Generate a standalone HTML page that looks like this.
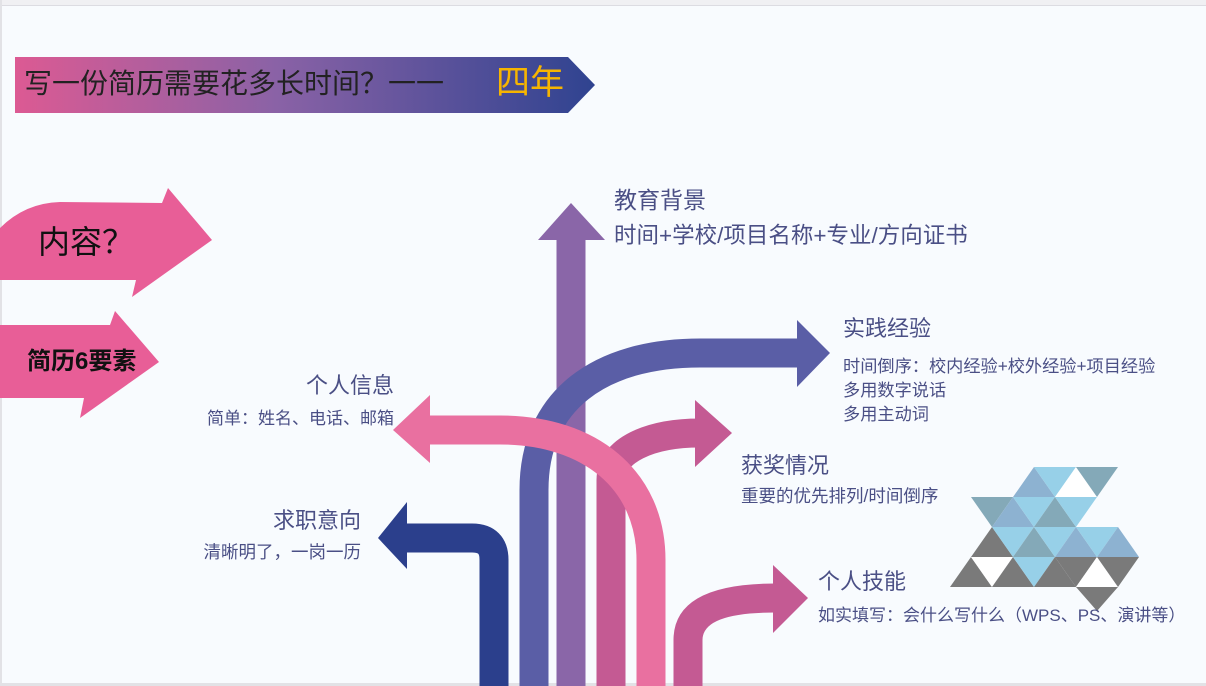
<!DOCTYPE html>
<html><head><meta charset="utf-8"><style>
html,body{margin:0;padding:0;}
body{width:1206px;height:686px;position:relative;overflow:hidden;background:#f8fbfe;font-family:"Liberation Sans","Noto Sans CJK SC",sans-serif;}
.t{position:absolute;color:#4a4f85;white-space:nowrap;line-height:1;}
.r{text-align:right;}
</style></head><body>
<div style="position:absolute;left:0;top:0;width:1206px;height:5px;background:#f0f0f3"></div>
<div style="position:absolute;left:0;top:5px;width:1206px;height:1px;background:#dcdce2"></div>
<div style="position:absolute;left:0;top:0;width:2px;height:686px;background:#e2e2e6"></div>
<div style="position:absolute;left:0;top:683px;width:1206px;height:3px;background:#e2e2e6"></div>
<svg width="1206" height="686" style="position:absolute;left:0;top:0">
<defs><linearGradient id="g" x1="0" x2="1"><stop offset="0" stop-color="#dc5a93"/><stop offset="0.45" stop-color="#8a62a6"/><stop offset="1" stop-color="#2f4390"/></linearGradient></defs>
<polygon points="15,57 568,57 595,85 568,113 15,113" fill="url(#g)"/>
<path d="M0,228 Q25,203 60,202 L162,203 L168,188 L212,240 L132,297 L136,280 L0,280 Z" fill="#e85e97"/>
<path d="M0,325 L110,325 L115,311 L159,362 L80,418 L84,398 L0,398 Z" fill="#e85e97"/>
<g fill="none" stroke-width="29">
<path d="M494,686 V560 Q494,538 472,538 H405" stroke="#2b3f8c"/>
<path d="M571,686 V238" stroke="#8a66a8"/>
<path d="M534,686 V490 C534,400 600,353 700,353 H800" stroke="#5a5ea6"/>
<path d="M611,686 V480 C611,450 650,433 700,433 H698" stroke="#c45a93"/>
<path d="M651,686 V560 C651,480 590,430 500,430 H428" stroke="#e970a0"/>
<path d="M688,686 V640 C688,610 720,598 775,598" stroke="#c45a93"/>
</g>
<polygon points="407,502 378,538 407,569" fill="#2b3f8c"/>
<polygon points="538,240 571,203 605,240" fill="#8a66a8"/>
<polygon points="797,320 830,353 797,387" fill="#5a5ea6"/>
<polygon points="695,400 732,433 695,467" fill="#c45a93"/>
<polygon points="430,395 393,430 430,463" fill="#e970a0"/>
<polygon points="773,565 808,598 773,633" fill="#c45a93"/>
<g>
<polygon points="1013,497 1034,467 1055,497" fill="#8db2d1"/>
<polygon points="1034,467 1076,467 1055,497" fill="#97d0e8"/>
<polygon points="1055,497 1076,467 1097,497" fill="#ffffff"/>
<polygon points="1076,467 1118,467 1097,497" fill="#84a9b8"/>
<polygon points="971,497 1013,497 992,527" fill="#84a9b8"/>
<polygon points="992,527 1013,497 1034,527" fill="#8db2d1"/>
<polygon points="1013,497 1055,497 1034,527" fill="#97d0e8"/>
<polygon points="1034,527 1055,497 1076,527" fill="#84a9b8"/>
<polygon points="1055,497 1097,497 1076,527" fill="#97d0e8"/>
<polygon points="971,557 992,527 1013,557" fill="#7a7a7a"/>
<polygon points="992,527 1034,527 1013,557" fill="#97d0e8"/>
<polygon points="1013,557 1034,527 1055,557" fill="#84a9b8"/>
<polygon points="1034,527 1076,527 1055,557" fill="#97d0e8"/>
<polygon points="1055,557 1076,527 1097,557" fill="#8db2d1"/>
<polygon points="1076,527 1118,527 1097,557" fill="#97d0e8"/>
<polygon points="1097,557 1118,527 1139,557" fill="#8db2d1"/>
<polygon points="950,587 971,557 992,587" fill="#7a7a7a"/>
<polygon points="971,557 1013,557 992,587" fill="#ffffff"/>
<polygon points="992,587 1013,557 1034,587" fill="#7a7a7a"/>
<polygon points="1013,557 1055,557 1034,587" fill="#97d0e8"/>
<polygon points="1034,587 1055,557 1076,587" fill="#7a7a7a"/>
<polygon points="1055,557 1097,557 1076,587" fill="#7a7a7a"/>
<polygon points="1076,587 1097,557 1118,587" fill="#ffffff"/>
<polygon points="1097,557 1139,557 1118,587" fill="#7a7a7a"/>
<polygon points="1076,587 1118,587 1097,611" fill="#7a7a7a"/>
</g>
</svg>
<div class="t" style="left:24px;top:70px;font-size:28px;color:#222">写一份简历需要花多长时间？一一</div>
<div class="t" style="left:496px;top:66px;font-size:34px;color:#f7b500">四年</div>
<div class="t" style="left:38px;top:226px;font-size:32px;color:#111">内容？</div>
<div class="t" style="left:27px;top:350px;font-size:24px;color:#111;font-weight:bold">简历6要素</div>
<div class="t" style="left:614px;top:189px;font-size:23px">教育背景</div>
<div class="t" style="left:614px;top:225px;font-size:22.5px">时间+学校/项目名称+专业/方向证书</div>
<div class="t" style="left:843px;top:318px;font-size:22px">实践经验</div>
<div class="t" style="left:843px;top:354px;font-size:17.2px;line-height:24px">时间倒序：校内经验+校外经验+项目经验<br>多用数字说话<br>多用主动词</div>
<div class="t r" style="right:812px;top:375px;font-size:22px">个人信息</div>
<div class="t r" style="right:812px;top:410px;font-size:17px">简单：姓名、电话、邮箱</div>
<div class="t" style="left:741px;top:455px;font-size:22px">获奖情况</div>
<div class="t" style="left:741px;top:488px;font-size:17.5px">重要的优先排列/时间倒序</div>
<div class="t r" style="right:845px;top:510px;font-size:22px">求职意向</div>
<div class="t r" style="right:845px;top:544px;font-size:17.5px">清晰明了，一岗一历</div>
<div class="t" style="left:818px;top:571px;font-size:22px">个人技能</div>
<div class="t" style="left:818px;top:607px;font-size:17px">如实填写：会什么写什么（WPS、PS、演讲等）</div>
</body></html>
